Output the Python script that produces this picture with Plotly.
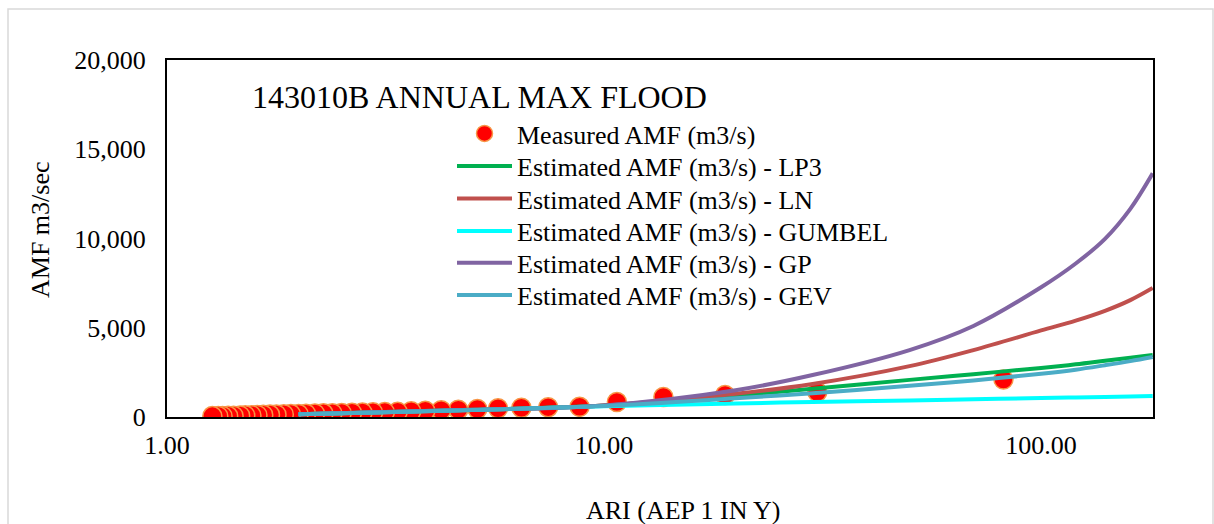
import plotly.graph_objects as go

# Measured annual max flood (plotting positions, ARI in years) and flows (m3/s)
measured_ari = [82.0, 30.75, 18.92, 13.67, 10.70, 8.79, 7.45, 6.47, 5.72, 5.13,
                4.64, 4.24, 3.90, 3.62, 3.37, 3.15, 2.96, 2.80, 2.65, 2.51,
                2.39, 2.28, 2.18, 2.08, 2.00, 1.92, 1.85, 1.78, 1.72, 1.66,
                1.61, 1.56, 1.51, 1.47, 1.42, 1.38, 1.34, 1.31, 1.27]
measured_amf = [2100, 1400, 1230, 1120, 840, 570, 550, 520, 490, 450,
                410, 385, 350, 320, 300, 280, 265, 250, 240, 225,
                215, 205, 195, 185, 175, 165, 155, 145, 135, 125,
                115, 105, 95, 85, 75, 65, 60, 55, 50]

# Estimated curves
est_ari = [2, 3, 5, 10, 20, 30, 50, 70, 100, 120, 140, 160, 180]
est_lp3 = [160, 260, 400, 640, 1200, 1580, 2080, 2400, 2750, 2950, 3150, 3320, 3470]
est_ln = [160, 260, 400, 640, 1300, 1850, 2850, 3750, 4850, 5400, 5950, 6550, 7230]
est_gumbel = [160, 255, 390, 600, 760, 840, 930, 990, 1060, 1095, 1125, 1155, 1180]
est_gp = [160, 260, 400, 650, 1500, 2350, 3750, 5100, 7270, 8600, 9980, 11660, 13650]
est_gev = [160, 258, 395, 620, 1050, 1330, 1750, 2050, 2420, 2650, 2900, 3130, 3360]

series_names = ["Estimated AMF (m3/s) - LP3", "Estimated AMF (m3/s) - LN",
                "Estimated AMF (m3/s) - GUMBEL", "Estimated AMF (m3/s) - GP",
                "Estimated AMF (m3/s) - GEV"]
series_values = [est_lp3, est_ln, est_gumbel, est_gp, est_gev]
series_colors = ["#00B050", "#C0504D", "#00FFFF", "#8064A2", "#4BACC6"]

x_tick_vals = [1, 10, 100]
x_tick_text = ["1.00", "10.00", "100.00"]
y_tick_vals = [0, 5000, 10000, 15000, 20000]

FONT = "Liberation Serif, Times New Roman, serif"

L, R, T, B = 167, 61, 60, 107
W, H = 1214, 524
pw, ph = W - L - R, H - T - B


def px_x(p):
    return (p - L) / pw


def px_y(p):
    return (H - B - p) / ph


legend_ids = ["legend", "legend2", "legend3", "legend4", "legend5", "legend6"]
legend_centers = [135, 167.7, 200, 232.7, 264.3, 296.7]

fig = go.Figure()
fig.add_trace(go.Scatter(
    x=measured_ari, y=measured_amf, mode="markers",
    name="Measured AMF (m3/s)", legend=legend_ids[0],
    marker=dict(size=19, color="#FF0000", line=dict(color="#F79646", width=1.5)),
))
for i, (name, vals, col) in enumerate(zip(series_names, series_values, series_colors)):
    fig.add_trace(go.Scatter(
        x=est_ari, y=vals, mode="lines", name=name, legend=legend_ids[i + 1],
        line=dict(color=col, width=4, shape="spline", smoothing=1.0),
    ))

legend_layout = {}
for lid, c in zip(legend_ids, legend_centers):
    legend_layout[lid] = dict(
        x=px_x(452), y=px_y(c - 25), xanchor="left", yanchor="top",
        bgcolor="rgba(0,0,0,0)", font=dict(size=26), itemwidth=55,
    )

fig.update_layout(
    width=W, height=H,
    margin=dict(l=L, r=R, t=T, b=B),
    paper_bgcolor="white", plot_bgcolor="white",
    font=dict(family=FONT, size=26, color="black"),
    showlegend=True,
    xaxis=dict(type="log", range=[0, 2.256], tickvals=x_tick_vals,
               ticktext=x_tick_text, showgrid=False, zeroline=False,
               showline=True, linecolor="black", linewidth=2, mirror=True,
               ticks="", ticklabelstandoff=4),
    yaxis=dict(range=[0, 20000], tickvals=y_tick_vals, tickformat=",",
               showgrid=False, zeroline=False, showline=True,
               linecolor="black", linewidth=2, mirror=True, ticks="",
               ticklabelstandoff=14),
    annotations=[
        dict(text="143010B ANNUAL MAX FLOOD", xref="paper", yref="paper",
             x=px_x(250), y=px_y(97), xanchor="left", yanchor="middle",
             showarrow=False, font=dict(size=32)),
        dict(text="ARI (AEP 1 IN Y)", xref="paper", yref="paper",
             x=px_x(683), y=px_y(510), xanchor="center", yanchor="middle",
             showarrow=False, font=dict(size=26)),
        dict(text="AMF m3/sec", xref="paper", yref="paper",
             x=px_x(40), y=px_y(230), xanchor="center", yanchor="middle",
             textangle=-90, showarrow=False, font=dict(size=26)),
    ],
    shapes=[
        dict(type="rect", xref="paper", yref="paper",
             x0=px_x(8), x1=px_x(1213), y0=px_y(540), y1=px_y(9),
             line=dict(color="#D9D9D9", width=1.5), fillcolor="rgba(0,0,0,0)",
             layer="below"),
    ],
    **legend_layout,
)

fig.write_html("out.html")
